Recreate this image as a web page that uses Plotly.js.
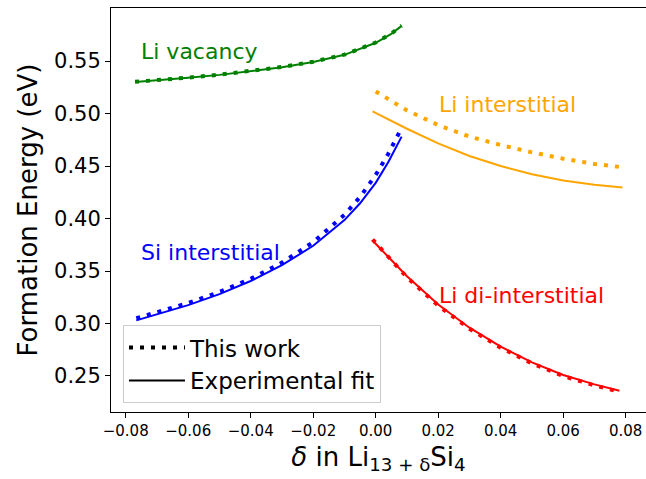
<!DOCTYPE html>
<html>
<head>
<meta charset="utf-8">
<script src="https://cdn.plot.ly/plotly-3.0.1.min.js"></script>
<style>html,body{margin:0;padding:0;overflow:hidden;background:#fff}</style>
</head>
<body>
<div id="chart" style="width:646px;height:479px"></div>
<script>
// Li vacancy
const vacX = [-0.077, -0.07, -0.06, -0.05, -0.04, -0.03, -0.02, -0.01, 0, 0.005, 0.0083];
const vacWork = [0.5302, 0.5317, 0.5342, 0.5370, 0.5403, 0.5443, 0.5493, 0.5561, 0.5676, 0.5761, 0.5837];
const vacExp = [0.5300, 0.5315, 0.5340, 0.5368, 0.5401, 0.5441, 0.5491, 0.5559, 0.5674, 0.5759, 0.5835];
// Si interstitial
const siXWork = [-0.0766, -0.07, -0.06, -0.05, -0.04, -0.03, -0.02, -0.01, -0.005, 0, 0.004, 0.008];
const siWork = [0.3050, 0.3105, 0.3195, 0.3300, 0.3425, 0.3580, 0.3775, 0.4035, 0.4205, 0.4415, 0.4615, 0.4845];
const siXExp = [-0.0766, -0.07, -0.06, -0.05, -0.04, -0.03, -0.02, -0.01, -0.005, 0, 0.004, 0.0083];
const siExp = [0.3030, 0.3085, 0.3175, 0.3280, 0.3405, 0.3555, 0.3740, 0.3985, 0.4145, 0.4340, 0.4535, 0.4780];
// Li interstitial
const liXWork = [0, 0.01, 0.02, 0.03, 0.04, 0.05, 0.06, 0.07, 0.0797];
const liWork = [0.521, 0.503, 0.489, 0.478, 0.470, 0.463, 0.457, 0.452, 0.4485];
const liXExp = [-0.001, 0.01, 0.02, 0.03, 0.04, 0.05, 0.06, 0.07, 0.079];
const liExp = [0.502, 0.4855, 0.4715, 0.4595, 0.4500, 0.4422, 0.4362, 0.4322, 0.4295];
// Li di-interstitial
const diX = [-0.001, 0.005, 0.01, 0.02, 0.03, 0.04, 0.05, 0.06, 0.07, 0.078];
const diWork = [0.380, 0.3605, 0.344, 0.317, 0.295, 0.277, 0.262, 0.250, 0.241, 0.235];
const diExp = [0.379, 0.3605, 0.345, 0.318, 0.296, 0.278, 0.263, 0.251, 0.242, 0.236];

const labels = ["Li vacancy", "Si interstitial", "Li interstitial", "Li di-interstitial"];
const xTicks = [-0.08, -0.06, -0.04, -0.02, 0.00, 0.02, 0.04, 0.06, 0.08];
const yTicks = [0.25, 0.30, 0.35, 0.40, 0.45, 0.50, 0.55];

const DOT = {width: 4, dash: "4px,7px"};
const SOLID = {width: 2, dash: "solid"};
function tr(x, y, color, style) {
  return {x: x, y: y, mode: "lines", showlegend: false, hoverinfo: "skip",
    line: Object.assign({color: color, shape: "linear"}, style)};
}
const data = [
  tr(vacX, vacWork, "green", DOT), tr(vacX, vacExp, "green", SOLID),
  tr(siXWork, siWork, "blue", DOT), tr(siXExp, siExp, "blue", SOLID),
  tr(liXWork, liWork, "orange", DOT), tr(liXExp, liExp, "orange", SOLID),
  tr(diX, diWork, "red", DOT), tr(diX, diExp, "red", SOLID),
  {x: [null], y: [null], mode: "lines", name: "This work", line: {color: "black", width: 4, dash: "4px,7px"}},
  {x: [null], y: [null], mode: "lines", name: "Experimental fit", line: {color: "black", width: 2}}
];

const F = "DejaVu Sans, sans-serif";
const layout = {
  width: 646, height: 479,
  margin: {l: 111, r: 0, t: 8, b: 67},
  paper_bgcolor: "#fff", plot_bgcolor: "#fff",
  font: {family: F, color: "#000"},
  xaxis: {
    range: [-0.0847, 0.0865], tickvals: xTicks, ticktext: xTicks.map(v => (v < 0 ? "\u2212" : "") + Math.abs(v).toFixed(2)),
    ticks: "outside", ticklen: 5, tickcolor: "#000", showgrid: false, zeroline: false,
    showline: true, linecolor: "#000", linewidth: 1, mirror: true,
    tickfont: {size: 15, family: F},
    title: {text: "<i>δ</i> in Li<sub>13 + δ</sub>Si<sub>4</sub>", font: {size: 26, family: F}, standoff: 8}
  },
  yaxis: {
    range: [0.2157, 0.6005], tickvals: yTicks, ticktext: yTicks.map(v => v.toFixed(2)),
    ticks: "outside", ticklen: 5, tickcolor: "#000", showgrid: false, zeroline: false,
    showline: true, linecolor: "#000", linewidth: 1, mirror: false,
    tickfont: {size: 21, family: F},
    title: {text: "Formation Energy (eV)", font: {size: 26, family: F}, standoff: 8}
  },
  legend: {x: 0.0224, y: 0.215, xanchor: "left", yanchor: "top", bgcolor: "rgba(255,255,255,0.8)",
    bordercolor: "#cccccc", borderwidth: 1, itemwidth: 56, font: {size: 23, family: F, color: "#000"}, tracegroupgap: 0},
  annotations: [
    {x: -0.0749, y: 0.5586, text: labels[0], color: "green"},
    {x: -0.0749, y: 0.3681, text: labels[1], color: "blue"},
    {x: 0.0205, y: 0.509, text: labels[2], color: "orange"},
    {x: 0.0205, y: 0.3271, text: labels[3], color: "red"}
  ].map(a => ({x: a.x, y: a.y, xref: "x", yref: "y", text: a.text, showarrow: false, xshift: -3,
    xanchor: "left", yanchor: "middle", font: {size: 22, family: F, color: a.color}}))
};
Plotly.newPlot("chart", data, layout, {staticPlot: true, displayModeBar: false});
</script>
</body>
</html>
